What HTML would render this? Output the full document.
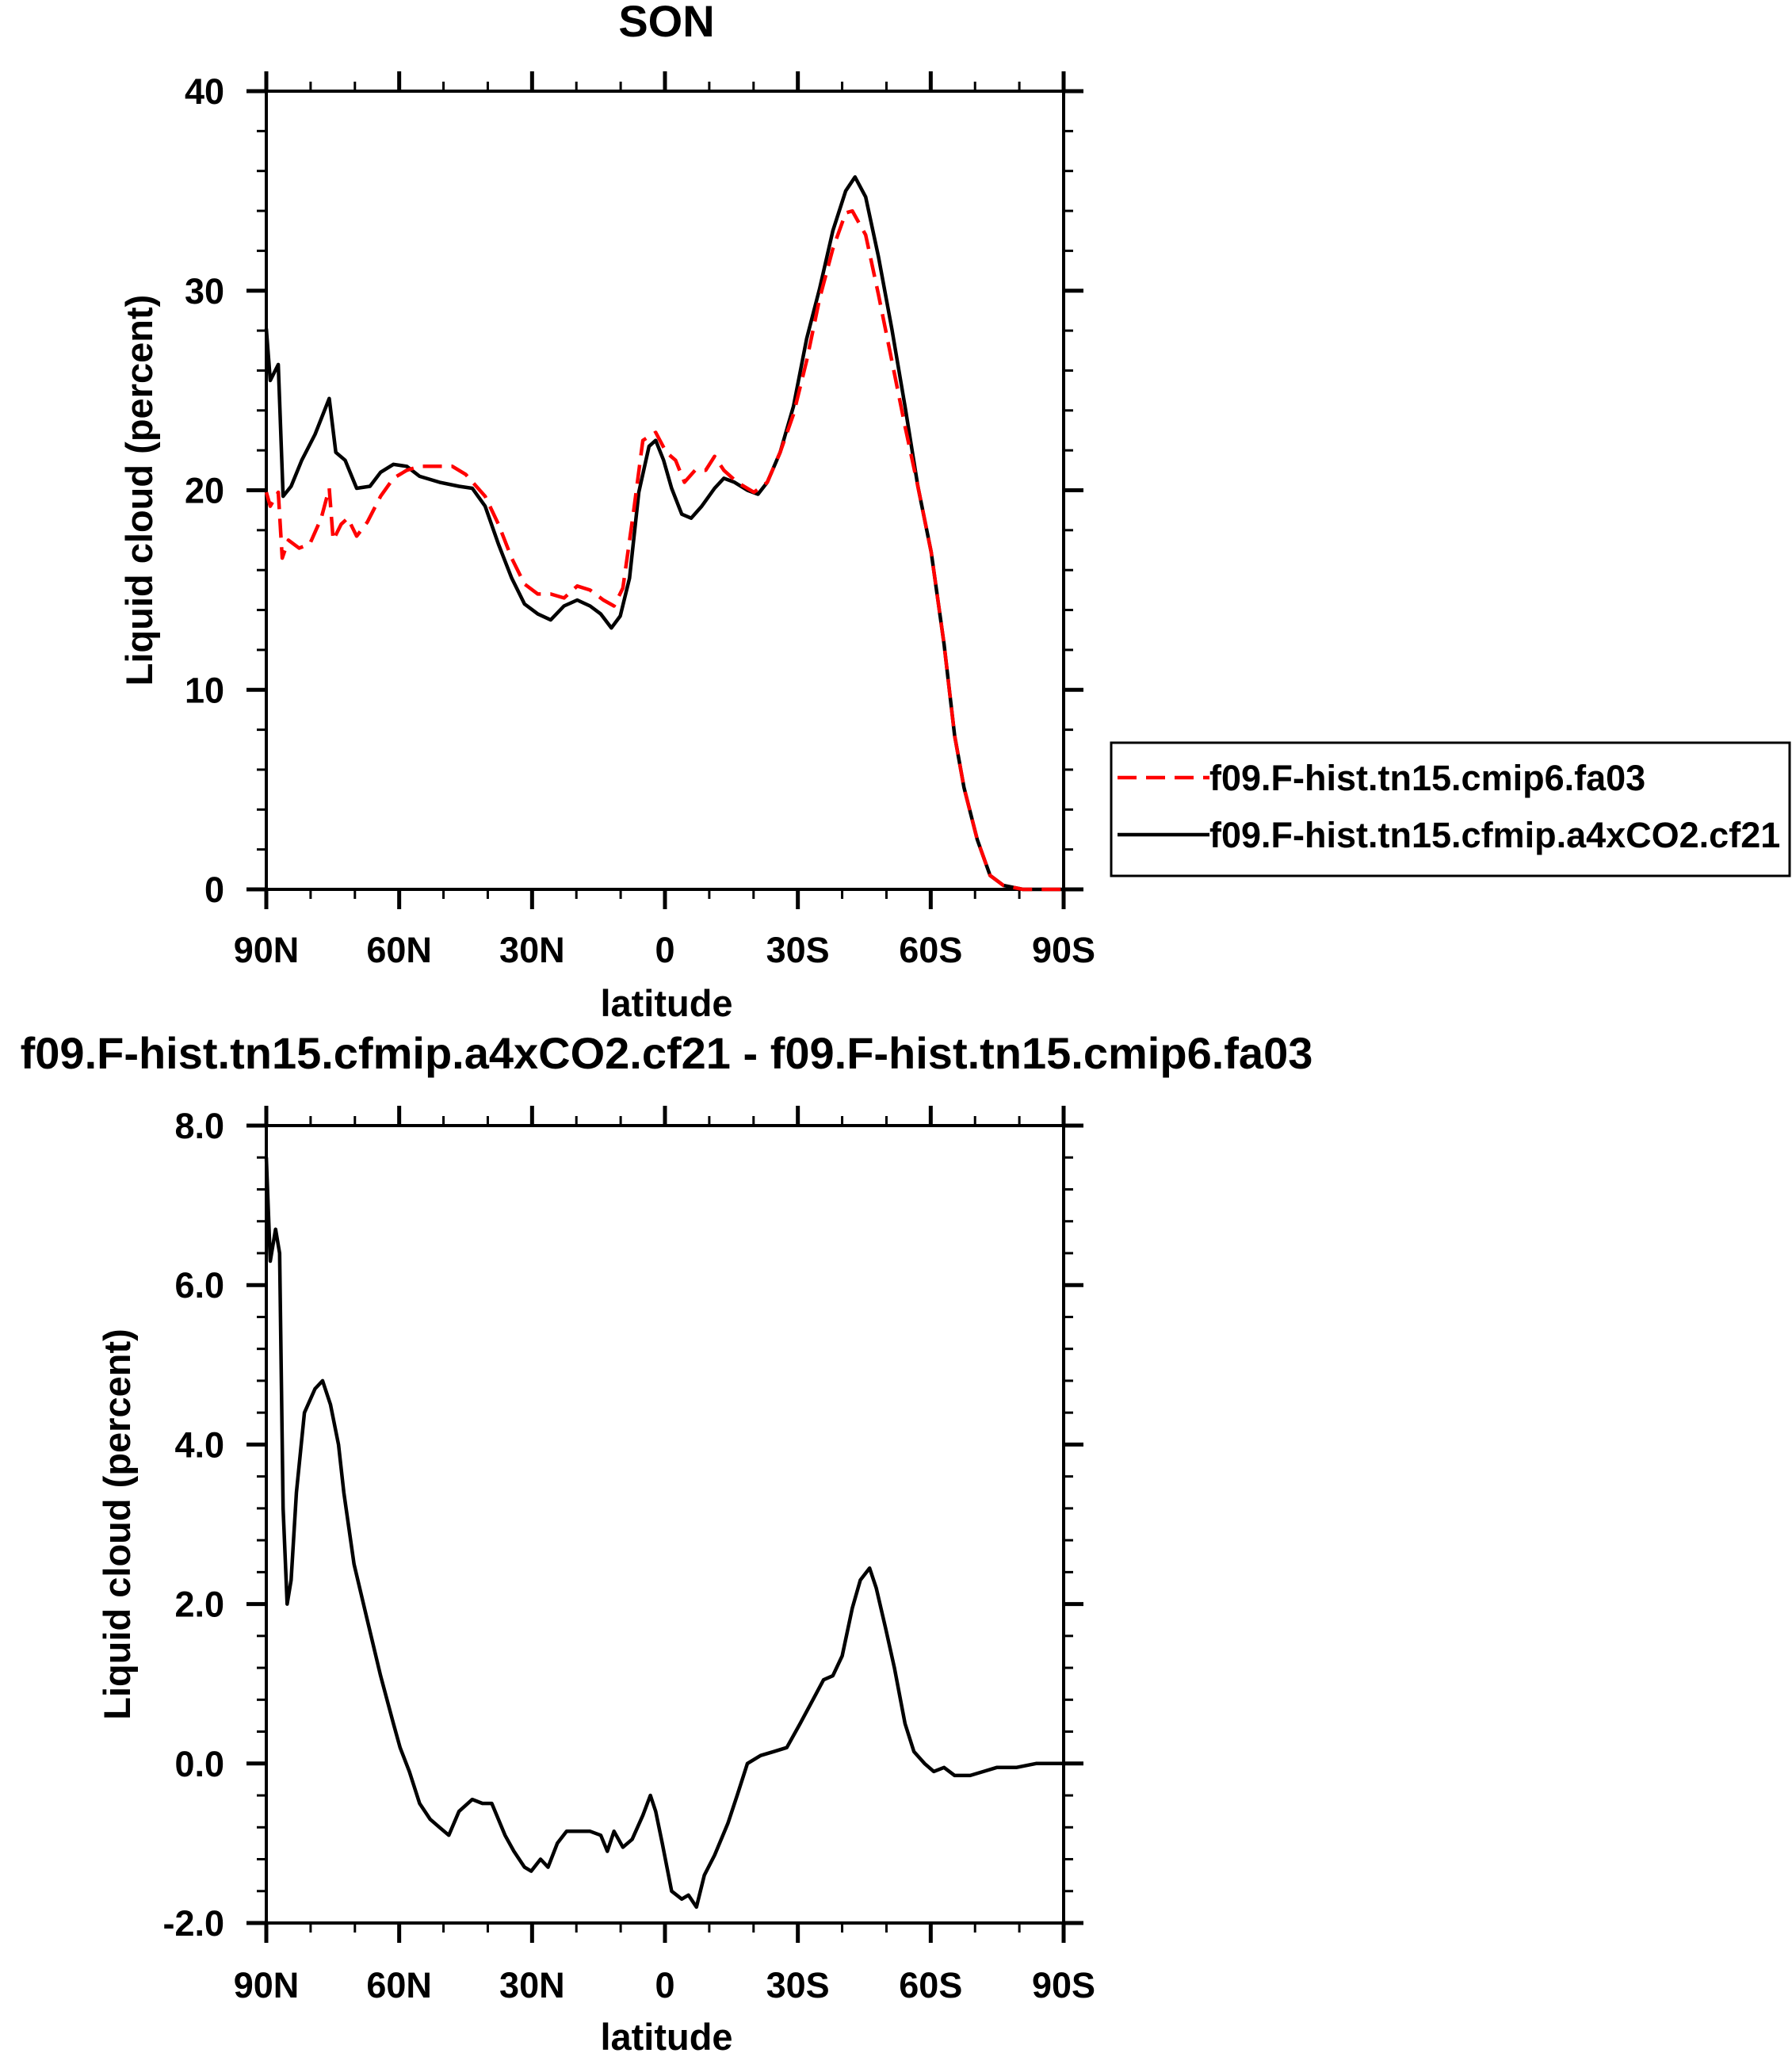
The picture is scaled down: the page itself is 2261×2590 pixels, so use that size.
<!DOCTYPE html>
<html><head><meta charset="utf-8"><style>
html,body{margin:0;padding:0;background:#fff;}
svg{display:block;font-family:"Liberation Sans",Arial,sans-serif;font-weight:bold;}
</style></head><body>
<svg id="c" width="2261" height="2590" viewBox="0 0 2261 2590" xmlns="http://www.w3.org/2000/svg"></svg>
<script>
const xTickLabels=["90N","60N","30N","0","30S","60S","90S"];
const xTickLats=[90,60,30,0,-30,-60,-90];
const topYTicks=[0,10,20,30,40];
const botYTicks=[-2,0,2,4,6,8];
const botYTickLabels=["-2.0","0.0","2.0","4.0","6.0","8.0"];
const blackLat=[90,89.1,87.3,86.2,84.4,82,79,75.8,74.3,72.2,69.6,66.6,64.2,61.3,58.3,55.4,50.9,46.5,43.5,40.6,37.6,34.6,31.7,28.7,25.8,22.8,19.8,16.9,14.5,12.1,10.1,8,5.9,3.6,2.1,0.3,-1.5,-3.8,-5.9,-8.3,-11.2,-13.3,-15.7,-18.6,-21,-23.1,-26,-29,-32,-34.9,-37.9,-40.8,-42.9,-45.3,-48.2,-51.2,-54.2,-57.1,-60.1,-63,-65.4,-67.5,-70.5,-73.4,-76.4,-80.8,-90];
const blackVal=[28.1,25.5,26.3,19.7,20.2,21.5,22.8,24.6,21.9,21.5,20.1,20.2,20.9,21.3,21.2,20.7,20.4,20.2,20.1,19.2,17.3,15.6,14.3,13.8,13.5,14.2,14.5,14.2,13.8,13.1,13.7,15.6,19.9,22.2,22.5,21.5,20.1,18.8,18.6,19.2,20.1,20.6,20.4,20.0,19.8,20.4,21.9,24.2,27.6,30.1,33.0,35.0,35.7,34.7,31.7,28.1,24.2,20.2,16.9,12.3,7.7,5.1,2.5,0.7,0.2,0,0];
const redLat=[90,89.1,87.3,86.4,85,82.6,80.2,77.6,75.8,74.9,73.1,71.6,69.6,67.2,64.2,61.3,58.3,55.4,50.9,48,45,40.6,37.6,34.6,31.7,28.7,25.8,22.8,19.8,16.9,13.9,11.5,9.5,7.1,5,2.1,-0.3,-2.4,-4.4,-6.8,-9.2,-11.2,-13.3,-16.3,-20.1,-23.1,-26,-29,-32,-34.9,-37.9,-40.8,-42.3,-45.3,-48.2,-51.2,-54.2,-57.1,-60.1,-63,-65.4,-67.5,-70.5,-73.4,-76.4,-80.8,-90];
const redVal=[19.9,19.2,19.9,16.6,17.5,17.1,17.3,18.6,20.1,17.5,18.3,18.6,17.7,18.4,19.7,20.6,21.0,21.2,21.2,21.2,20.8,19.7,18.3,16.6,15.3,14.8,14.8,14.6,15.2,15.0,14.5,14.2,15.1,18.9,22.5,22.9,21.9,21.5,20.4,21.0,21.0,21.7,21.0,20.4,19.9,20.4,21.9,23.8,26.5,29.6,32.1,33.9,34.0,32.8,29.8,26.5,23.2,20.2,16.9,12.3,7.7,5.1,2.5,0.7,0.2,0,0];
const diffLat=[90,89.1,87.9,87,86.2,85.3,84.4,83.2,81.4,79,77.3,75.5,73.7,72.5,70.2,67.2,64.2,61.3,59.8,57.7,55.4,53,50.9,48.8,46.5,43.5,41.2,39.1,36.1,34.1,31.7,30.2,28.1,26.4,24.3,22.2,19.8,16.9,14.5,13,11.5,9.5,7.4,5,3.3,2.1,0.6,-1.5,-3.8,-5.3,-7.1,-8.9,-11.2,-14.2,-16.3,-18.6,-21.6,-24.6,-27.5,-30.5,-33.4,-35.8,-37.9,-40,-42.3,-44.1,-46.2,-47.7,-49.8,-51.8,-54.2,-56.2,-58.6,-60.7,-63,-65.4,-68.9,-71.9,-74.9,-79.3,-83.8,-90];
const diffVal=[7.6,6.3,6.7,6.4,3.2,2.0,2.3,3.4,4.4,4.7,4.8,4.5,4.0,3.4,2.5,1.8,1.1,0.5,0.2,-0.1,-0.5,-0.7,-0.8,-0.9,-0.6,-0.45,-0.5,-0.5,-0.9,-1.1,-1.3,-1.35,-1.2,-1.3,-1.0,-0.85,-0.85,-0.85,-0.9,-1.1,-0.85,-1.05,-0.95,-0.65,-0.4,-0.6,-1.0,-1.6,-1.7,-1.65,-1.8,-1.4,-1.15,-0.75,-0.4,0.0,0.1,0.15,0.2,0.5,0.8,1.05,1.1,1.35,1.95,2.3,2.45,2.2,1.7,1.2,0.5,0.15,0.0,-0.1,-0.05,-0.15,-0.15,-0.1,-0.05,-0.05,0.0,0.0];

const svgRoot=document.getElementById('c');
const NS="http://www.w3.org/2000/svg";
function el(t,a,p){const e=document.createElementNS(NS,t);for(const k in a)e.setAttribute(k,a[k]);(p||svgRoot).appendChild(e);return e;}
const X0=336,X1=1342;
function xs(lat){return X0+(90-lat)/180*(X1-X0);}

function panel(name,Y0,Y1,vmin,vmax,yticks,ylabels,minorStep,ytitleX,xlabY,latY){
  const g=el('g',{});
  
  
  const ys=v=>Y1-(v-vmin)/(vmax-vmin)*(Y1-Y0);
  const fr=el('rect',{x:X0,y:Y0,width:X1-X0,height:Y1-Y0,fill:'none',stroke:'#000','stroke-width':4},g);
  
  
  for(let lat=90;lat>=-90;lat-=10){
    const maj=lat%30===0, L=maj?25:12, x=xs(lat);
    el('line',{x1:x,x2:x,y1:Y1,y2:Y1+L,stroke:'#000','stroke-width':maj?5:3},g);
    el('line',{x1:x,x2:x,y1:Y0,y2:Y0-L,stroke:'#000','stroke-width':maj?5:3},g);
  }
  xTickLats.forEach((lat,i)=>{
    const t=el('text',{x:xs(lat),y:xlabY,'font-size':45,'text-anchor':'middle'},g);
    t.textContent=xTickLabels[i];
    
    
  });
  const nSteps=Math.round((vmax-vmin)/minorStep);
  for(let k=0;k<=nSteps;k++){
    const v=vmin+k*minorStep;
    const maj=yticks.some(t=>Math.abs(t-v)<1e-6), L=maj?25:12, y=ys(v);
    el('line',{x1:X0,x2:X0-L,y1:y,y2:y,stroke:'#000','stroke-width':maj?5:3},g);
    el('line',{x1:X1,x2:X1+L,y1:y,y2:y,stroke:'#000','stroke-width':maj?5:3},g);
  }
  yticks.forEach((v,i)=>{
    const t=el('text',{x:283,y:ys(v)+16,'font-size':45,'text-anchor':'end'},g);
    t.textContent=ylabels[i];
    
    
  });
  const lt=el('text',{x:841,y:latY,'font-size':47,'text-anchor':'middle'},g);
  lt.textContent='latitude';
  
  
  const cy=(Y0+Y1)/2;
  const yt=el('text',{x:ytitleX,y:cy,'font-size':47,'text-anchor':'middle',transform:'rotate(-90 '+ytitleX+' '+cy+')'},g);
  yt.textContent='Liquid cloud (percent)';
  
  
  return {g:g,ys:ys};
}
function drawLine(g,ys,lats,vals,color,dash,name){
  const d=lats.map((l,i)=>(i?'L':'M')+xs(l).toFixed(1)+','+ys(vals[i]).toFixed(1)).join('');
  const a={d:d,fill:'none',stroke:color,'stroke-width':4.5,'stroke-linejoin':'round'};
  if(dash)a['stroke-dasharray']=dash;
  const p=el('path',a,g);
  
  
}
const topP=panel('top-panel',115,1122,0,40,topYTicks,topYTicks.map(String),2,192,1214,1282);
drawLine(topP.g,topP.ys,blackLat,blackVal,'#000','','series-cf21');
drawLine(topP.g,topP.ys,redLat,redVal,'#ff0000','24,12','series-fa03');
const botP=panel('bottom-panel',1420,2426,-2,8,botYTicks,botYTickLabels,0.4,164,2520,2586);
drawLine(botP.g,botP.ys,diffLat,diffVal,'#000','','series-difference');

const t1=el('text',{x:841,y:46,'font-size':56,'text-anchor':'middle'});
t1.textContent='SON';


const t2=el('text',{x:841,y:1348,'font-size':56,'text-anchor':'middle'});
t2.textContent='f09.F-hist.tn15.cfmip.a4xCO2.cf21 - f09.F-hist.tn15.cmip6.fa03';



const lg=el('g',{});


el('rect',{x:1402,y:937,width:856,height:168,fill:'none',stroke:'#000','stroke-width':3},lg);
el('line',{x1:1410,x2:1526,y1:981,y2:981,stroke:'#ff0000','stroke-width':4.5,'stroke-dasharray':'24,12'},lg);
el('line',{x1:1410,x2:1526,y1:1053,y2:1053,stroke:'#000','stroke-width':4.5},lg);
const l1=el('text',{x:1526,y:997,'font-size':45},lg);
l1.textContent='f09.F-hist.tn15.cmip6.fa03';


const l2=el('text',{x:1526,y:1069,'font-size':45},lg);
l2.textContent='f09.F-hist.tn15.cfmip.a4xCO2.cf21';


</script>
</body></html>
